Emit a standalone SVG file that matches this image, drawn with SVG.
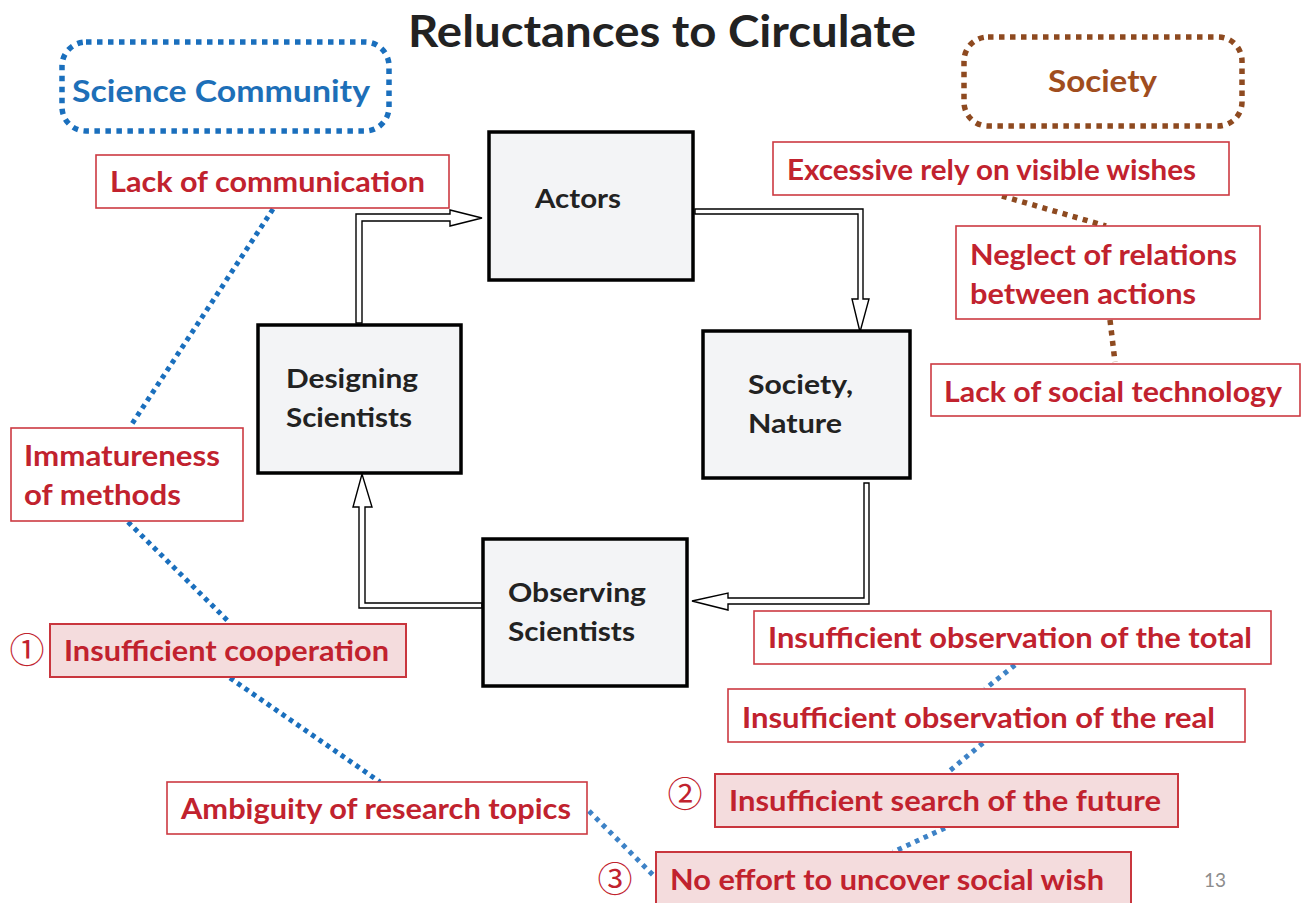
<svg xmlns="http://www.w3.org/2000/svg" width="1301" height="903" viewBox="0 0 1301 903">
<style>
  text { font-family: Lato, "Open Sans", "Liberation Sans", sans-serif; font-weight: bold; }
  .title { font-size: 44px; fill: #222; }
  .node rect { fill: #f3f4f6; stroke: #000; stroke-width: 3.5; }
  .ntxt { font-size: 27px; fill: #222; }
  .rbox rect { fill: #fff; stroke: #cc3a42; stroke-width: 1.6; }
  .fbox rect { fill: #f4dcdd; stroke: #c9363e; stroke-width: 2; }
  .rtxt { font-size: 28px; fill: #c1222e; }
  .num { font-family: "Noto Sans CJK JP", "DejaVu Sans", sans-serif; font-weight: normal; font-size: 35px; fill: #c1222e; text-anchor: middle; }
  .grp rect { fill: none; stroke-width: 5.5; stroke-dasharray: 5.5 5.5; }
  .arrow { fill: #fff; stroke: #000; stroke-width: 1.4; stroke-linejoin: miter; }
  .dotb { fill: none; stroke: #1a6fbd; stroke-width: 5; stroke-dasharray: 4.5 4.5; }
  .dotb2 { fill: none; stroke: #3d82c6; stroke-width: 5; stroke-dasharray: 4.5 5; }
  .dotr { fill: none; stroke: #8e4a20; stroke-width: 5.5; stroke-dasharray: 5 5.5; }
  .page { font-weight: normal; font-size: 19px; fill: #8c8c8c; }
</style>

<text class="title" x="408" y="47" textLength="508" lengthAdjust="spacingAndGlyphs">Reluctances to Circulate</text>

<g id="science-community" class="grp">
  <rect x="62" y="42" width="327" height="89" rx="24" stroke="#1a6fbd"/>
  <text x="72" y="102" font-size="30" fill="#1d6fb8" textLength="298" lengthAdjust="spacingAndGlyphs">Science Community</text>
</g>
<g id="society" class="grp">
  <rect x="964" y="37" width="278" height="89" rx="24" stroke="#8e4a20"/>
  <text x="1048" y="92" font-size="30" fill="#a04d1e" textLength="109" lengthAdjust="spacingAndGlyphs">Society</text>
</g>

<g id="connectors">
  <polygon class="arrow" points="356,323 356,214 450,214 450,210 482,218 450,226 450,221 362,221 362,323"/>
  <polygon class="arrow" points="695,209 863,209 863,299 869,299 860,332 852,299 858,299 858,214 695,214"/>
  <polygon class="arrow" points="864,483 869,483 869,604 728,604 728,610 692,601 728,593 728,598 864,598"/>
  <polygon class="arrow" points="482,603 365,603 365,507 372,507 362,474 353,507 359,507 359,608 482,608"/>
  <line class="dotb" x1="273" y1="209" x2="130" y2="427"/>
  <line class="dotb" x1="128" y1="522" x2="230" y2="623"/>
  <line class="dotb" x1="230" y1="678" x2="380" y2="782"/>
  <line class="dotb2" x1="589" y1="811" x2="656" y2="878"/>
  <line class="dotb2" x1="1015" y1="665" x2="985" y2="689"/>
  <line class="dotb2" x1="983" y1="743" x2="947" y2="773"/>
  <line class="dotb2" x1="945" y1="828" x2="893" y2="852"/>
  <line class="dotr" x1="1002" y1="196" x2="1106" y2="226"/>
  <line class="dotr" x1="1110" y1="320" x2="1115" y2="362"/>
</g>

<g id="actors" class="node">
  <rect x="489" y="132" width="204" height="148"/>
  <text class="ntxt" x="535" y="208" textLength="86" lengthAdjust="spacingAndGlyphs">Actors</text>
</g>
<g id="designing-scientists" class="node">
  <rect x="258" y="325" width="203" height="148"/>
  <text class="ntxt" x="286" y="388" textLength="132" lengthAdjust="spacingAndGlyphs">Designing</text>
  <text class="ntxt" x="286" y="427" textLength="126" lengthAdjust="spacingAndGlyphs">Scientists</text>
</g>
<g id="society-nature" class="node">
  <rect x="703" y="331" width="207" height="147"/>
  <text class="ntxt" x="748" y="394" textLength="105" lengthAdjust="spacingAndGlyphs">Society,</text>
  <text class="ntxt" x="748" y="433" textLength="94" lengthAdjust="spacingAndGlyphs">Nature</text>
</g>
<g id="observing-scientists" class="node">
  <rect x="483" y="539" width="204" height="147"/>
  <text class="ntxt" x="508" y="602" textLength="138" lengthAdjust="spacingAndGlyphs">Observing</text>
  <text class="ntxt" x="508" y="641" textLength="127" lengthAdjust="spacingAndGlyphs">Scientists</text>
</g>

<g id="lack-of-communication" class="rbox">
  <rect x="96" y="155" width="353" height="53"/>
  <text class="rtxt" x="110" y="192" textLength="315" lengthAdjust="spacingAndGlyphs">Lack of communication</text>
</g>
<g id="immatureness-of-methods" class="rbox">
  <rect x="11" y="428" width="232" height="93"/>
  <text class="rtxt" x="24" y="466" textLength="196" lengthAdjust="spacingAndGlyphs">Immatureness</text>
  <text class="rtxt" x="24" y="505" textLength="157" lengthAdjust="spacingAndGlyphs">of methods</text>
</g>
<g id="insufficient-cooperation" class="fbox">
  <rect x="50" y="624" width="356" height="53"/>
  <text class="rtxt" x="64" y="661" textLength="325" lengthAdjust="spacingAndGlyphs">Insufficient cooperation</text>
</g>
<text class="num" x="27" y="663">①</text>
<g id="ambiguity-of-research-topics" class="rbox">
  <rect x="167" y="782" width="420" height="52"/>
  <text class="rtxt" x="181" y="819" textLength="390" lengthAdjust="spacingAndGlyphs">Ambiguity of research topics</text>
</g>
<g id="no-effort-to-uncover-social-wish" class="fbox">
  <rect x="656" y="852" width="475" height="56"/>
  <text class="rtxt" x="670" y="890" textLength="434" lengthAdjust="spacingAndGlyphs">No effort to uncover social wish</text>
</g>
<text class="num" x="615" y="892">③</text>
<g id="insufficient-search-of-the-future" class="fbox">
  <rect x="715" y="774" width="463" height="53"/>
  <text class="rtxt" x="729" y="811" textLength="432" lengthAdjust="spacingAndGlyphs">Insufficient search of the future</text>
</g>
<text class="num" x="685" y="807">②</text>
<g id="insufficient-observation-of-the-real" class="rbox">
  <rect x="728" y="689" width="517" height="53"/>
  <text class="rtxt" x="742" y="728" textLength="473" lengthAdjust="spacingAndGlyphs">Insufficient observation of the real</text>
</g>
<g id="insufficient-observation-of-the-total" class="rbox">
  <rect x="754" y="611" width="517" height="53"/>
  <text class="rtxt" x="768" y="648" textLength="484" lengthAdjust="spacingAndGlyphs">Insufficient observation of the total</text>
</g>
<g id="excessive-rely-on-visible-wishes" class="rbox">
  <rect x="773" y="142" width="456" height="53"/>
  <text class="rtxt" x="787" y="180" textLength="409" lengthAdjust="spacingAndGlyphs">Excessive rely on visible wishes</text>
</g>
<g id="neglect-of-relations-between-actions" class="rbox">
  <rect x="956" y="226" width="304" height="93"/>
  <text class="rtxt" x="970" y="265" textLength="267" lengthAdjust="spacingAndGlyphs">Neglect of relations</text>
  <text class="rtxt" x="970" y="304" textLength="226" lengthAdjust="spacingAndGlyphs">between actions</text>
</g>
<g id="lack-of-social-technology" class="rbox">
  <rect x="931" y="364" width="369" height="52"/>
  <text class="rtxt" x="944" y="402" textLength="338" lengthAdjust="spacingAndGlyphs">Lack of social technology</text>
</g>

<text class="page" x="1204" y="887">13</text>
</svg>
